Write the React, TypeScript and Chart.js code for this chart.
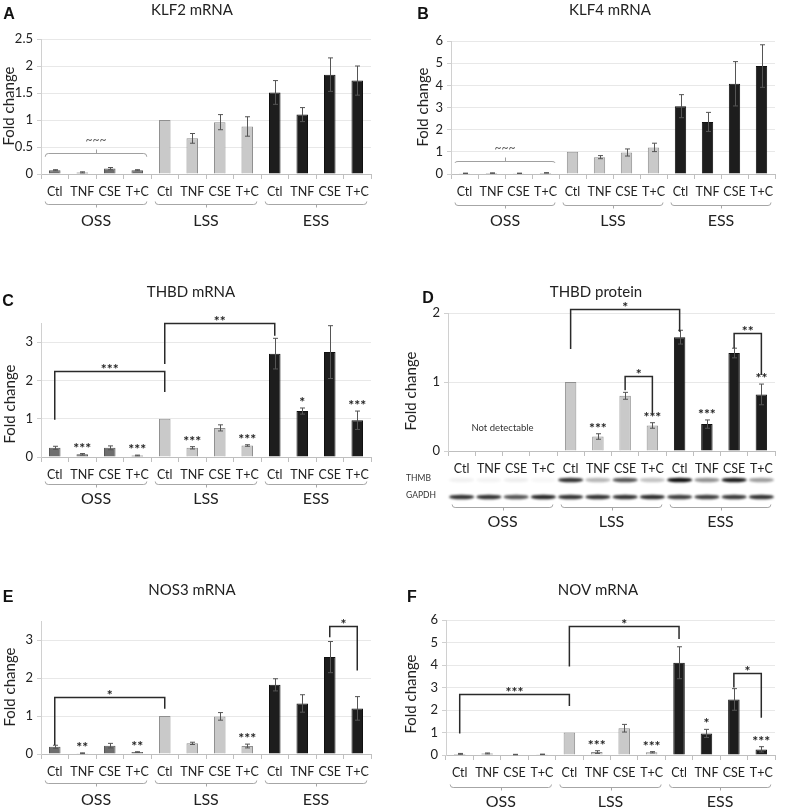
import React, { useEffect, useRef } from "react";
import { Chart, registerables } from "chart.js";

Chart.register(...registerables);
Chart.defaults.font.family = "Lato";

// ---------- shared categories ----------
const categories = ["Ctl", "TNF", "CSE", "T+C", "Ctl", "TNF", "CSE", "T+C", "Ctl", "TNF", "CSE", "T+C"];
const groups = ["OSS", "LSS", "ESS"];

// ---------- A: KLF2 mRNA ----------
const klf2Values = [0.07, 0.03, 0.1, 0.07, 1.0, 0.66, 0.96, 0.88, 1.51, 1.1, 1.84, 1.73];
const klf2Errors = [0.01, 0.01, 0.02, 0.01, 0, 0.09, 0.14, 0.18, 0.22, 0.13, 0.31, 0.27];
const klf2Stars = ["", "", "", "", "", "", "", "", "", "", "", ""];
const klf2Comparisons = [{ from: 0, to: 3, level: 0.38, fromEnd: 0.32, toEnd: 0.32, label: "~~~", kind: "brace" }];

// ---------- B: KLF4 mRNA ----------
const klf4Values = [0.03, 0.04, 0.03, 0.05, 1.0, 0.76, 0.97, 1.2, 3.06, 2.35, 4.07, 4.87];
const klf4Errors = [0.01, 0.01, 0.01, 0.01, 0, 0.07, 0.16, 0.19, 0.52, 0.43, 1.0, 0.96];
const klf4Stars = ["", "", "", "", "", "", "", "", "", "", "", ""];
const klf4Comparisons = [{ from: 0, to: 3, level: 0.6, fromEnd: 0.5, toEnd: 0.5, label: "~~~", kind: "brace" }];

// ---------- C: THBD mRNA ----------
const thbdValues = [0.24, 0.07, 0.24, 0.04, 1.0, 0.24, 0.76, 0.3, 2.7, 1.2, 2.74, 0.96];
const thbdErrors = [0.04, 0.02, 0.05, 0.01, 0, 0.03, 0.08, 0.02, 0.4, 0.08, 0.69, 0.24];
const thbdStars = ["", "***", "", "***", "", "***", "", "***", "", "*", "", "***"];
const thbdComparisons = [
  { from: 0, to: 4, level: 2.24, fromEnd: 0.97, toEnd: 1.7, label: "***", kind: "line" },
  { from: 4, to: 8, level: 3.5, fromEnd: 2.43, toEnd: 3.17, label: "**", kind: "line" },
];

// ---------- D: THBD protein ----------
const thbdProtValues = [null, null, null, null, 1.0, 0.21, 0.8, 0.37, 1.65, 0.39, 1.42, 0.82];
const thbdProtErrors = [0, 0, 0, 0, 0, 0.04, 0.05, 0.04, 0.1, 0.06, 0.07, 0.15];
const thbdProtStars = ["", "", "", "", "", "***", "", "***", "", "***", "", "**"];
const thbdProtComparisons = [
  { from: 4, to: 8, level: 2.06, fromEnd: 1.48, toEnd: 1.73, label: "*", kind: "line" },
  { from: 6, to: 7, level: 1.09, fromEnd: 0.88, toEnd: 0.52, label: "*", kind: "line" },
  { from: 10, to: 11, level: 1.71, fromEnd: 1.49, toEnd: 1.1, label: "**", kind: "line" },
];
const blotRowNames = ["THMB", "GAPDH"];
const thmbBands = [0.06, 0.05, 0.07, 0.04, 0.85, 0.3, 0.7, 0.25, 1.0, 0.45, 0.95, 0.4];
const gapdhBands = [0.85, 0.85, 0.7, 0.9, 0.85, 0.85, 0.85, 0.88, 0.8, 0.8, 0.82, 0.85];

// ---------- E: NOS3 mRNA ----------
const nos3Values = [0.19, 0.02, 0.22, 0.05, 1.0, 0.28, 0.99, 0.21, 1.82, 1.33, 2.55, 1.2];
const nos3Errors = [0.04, 0.01, 0.06, 0.01, 0, 0.03, 0.1, 0.05, 0.16, 0.23, 0.41, 0.31];
const nos3Stars = ["", "**", "", "**", "", "", "", "***", "", "", "", ""];
const nos3Comparisons = [
  { from: 0, to: 4, level: 1.5, fromEnd: 0.24, toEnd: 1.19, label: "*", kind: "line" },
  { from: 10, to: 11, level: 3.37, fromEnd: 3.07, toEnd: 2.2, label: "*", kind: "line" },
];

// ---------- F: NOV mRNA ----------
const novValues = [0.05, 0.07, 0.02, 0.03, 1.0, 0.13, 1.19, 0.12, 4.1, 0.96, 2.47, 0.25];
const novErrors = [0.02, 0.02, 0.01, 0.01, 0, 0.06, 0.17, 0.03, 0.71, 0.18, 0.48, 0.12];
const novStars = ["", "", "", "", "", "***", "", "***", "", "*", "", "***"];
const novComparisons = [
  { from: 0, to: 4, level: 2.71, fromEnd: 0.96, toEnd: 2.18, label: "***", kind: "line" },
  { from: 4, to: 8, level: 5.73, fromEnd: 3.93, toEnd: 5.16, label: "*", kind: "line" },
  { from: 10, to: 11, level: 3.66, fromEnd: 3.0, toEnd: 1.66, label: "*", kind: "line" },
];

// ---------- styles ----------
const groupFill = ["#6e6e6e", "#c9c9c9", "#1d1d1d"];
const groupBorder = ["#555555", "#8f8f8f", "#111111"];
const barFill = categories.map((_, i) => groupFill[Math.floor(i / 4)]);
const barBorder = categories.map((_, i) => groupBorder[Math.floor(i / 4)]);

type Panel = {
  id: string;
  letter: string;
  title: string;
  values: (number | null)[];
  errors: number[];
  stars: string[];
  comparisons: any[];
  max: number;
  step: number;
  box: number[];
  area: number[];
  letterPos: number[];
  titlePos: number[];
  yTitlePos: number[];
  bracketOff: number;
  groupOff: number;
  blot?: boolean;
  notDetectable?: boolean;
};

const panels: Panel[] = [
  {
    id: "A", letter: "A", title: "KLF2 mRNA", values: klf2Values, errors: klf2Errors, stars: klf2Stars,
    comparisons: klf2Comparisons, max: 2.5, step: 0.5,
    box: [0, 0, 393, 240], area: [41, 39, 371, 174], letterPos: [9, 15], titlePos: [192, 10], yTitlePos: [9, 106],
    bracketOff: 30, groupOff: 47,
  },
  {
    id: "B", letter: "B", title: "KLF4 mRNA", values: klf4Values, errors: klf4Errors, stars: klf4Stars,
    comparisons: klf4Comparisons, max: 6, step: 1,
    box: [393, 0, 394, 240], area: [451, 41, 775, 174], letterPos: [423, 15], titlePos: [610, 10], yTitlePos: [423, 107],
    bracketOff: 31, groupOff: 47,
  },
  {
    id: "C", letter: "C", title: "THBD mRNA", values: thbdValues, errors: thbdErrors, stars: thbdStars,
    comparisons: thbdComparisons, max: 3.5, step: 1,
    box: [0, 240, 393, 290], area: [41, 323, 371, 457], letterPos: [8, 302], titlePos: [191, 292], yTitlePos: [10, 404],
    bracketOff: 27, groupOff: 42,
  },
  {
    id: "D", letter: "D", title: "THBD protein", values: thbdProtValues, errors: thbdProtErrors, stars: thbdProtStars,
    comparisons: thbdProtComparisons, max: 2, step: 1,
    box: [393, 240, 394, 290], area: [448, 313, 775, 451], letterPos: [428, 299], titlePos: [596, 292], yTitlePos: [411, 391],
    bracketOff: 56, groupOff: 71, blot: true, notDetectable: true,
  },
  {
    id: "E", letter: "E", title: "NOS3 mRNA", values: nos3Values, errors: nos3Errors, stars: nos3Stars,
    comparisons: nos3Comparisons, max: 3.5, step: 1,
    box: [0, 530, 393, 280], area: [41, 621, 371, 754], letterPos: [8, 598], titlePos: [192, 590], yTitlePos: [10, 687],
    bracketOff: 29, groupOff: 46,
  },
  {
    id: "F", letter: "F", title: "NOV mRNA", values: novValues, errors: novErrors, stars: novStars,
    comparisons: novComparisons, max: 6, step: 1,
    box: [393, 530, 394, 280], area: [446, 620, 775, 755], letterPos: [412, 598], titlePos: [598, 590], yTitlePos: [411, 694],
    bracketOff: 32, groupOff: 47,
  },
];

function drawTextBottomAt(ctx: CanvasRenderingContext2D, text: string, x: number, bottom: number) {
  const m = ctx.measureText(text);
  ctx.textBaseline = "alphabetic";
  ctx.fillText(text, x, bottom - m.actualBoundingBoxDescent);
}

const starFont = "bold 14px Lato";

function makePlugin(cfg: Panel) {
  const [bx, by] = cfg.box;
  return {
    id: "decor" + cfg.id,
    afterDatasetsDraw(chart: any) {
      const ctx: CanvasRenderingContext2D = chart.ctx;
      const xs = chart.scales.x;
      const ys = chart.scales.y;
      ctx.save();
      // error bars
      ctx.strokeStyle = "#555";
      ctx.lineWidth = 1;
      cfg.values.forEach((v, i) => {
        const e = cfg.errors[i];
        if (v == null || !e) return;
        const x = Math.round(xs.getPixelForValue(i)) + 0.5;
        const yt = ys.getPixelForValue(v + e);
        const yb = ys.getPixelForValue(Math.max(v - e, 0));
        ctx.beginPath();
        ctx.moveTo(x, yt);
        ctx.lineTo(x, yb);
        ctx.moveTo(x - 2.5, yt);
        ctx.lineTo(x + 2.5, yt);
        ctx.moveTo(x - 2.5, yb);
        ctx.lineTo(x + 2.5, yb);
        ctx.stroke();
      });
      // stars over bars
      ctx.fillStyle = "#222";
      ctx.font = starFont;
      ctx.textAlign = "center";
      cfg.stars.forEach((s, i) => {
        const v = cfg.values[i];
        if (!s || v == null) return;
        const top = ys.getPixelForValue(v + (cfg.errors[i] || 0));
        drawTextBottomAt(ctx, s, xs.getPixelForValue(i), top - 6);
      });
      // comparison brackets
      cfg.comparisons.forEach((c) => {
        const x1 = xs.getPixelForValue(c.from);
        const x2 = xs.getPixelForValue(c.to);
        const y = Math.round(ys.getPixelForValue(c.level)) + 0.5;
        if (c.kind === "brace") {
          const l = x1 - 9.5;
          const r = x2 + 9.5;
          const ye = ys.getPixelForValue(c.fromEnd);
          ctx.strokeStyle = "#a0a0a0";
          ctx.lineWidth = 1;
          ctx.beginPath();
          ctx.moveTo(l, ye);
          ctx.quadraticCurveTo(l, y, l + 3, y);
          ctx.lineTo(r - 3, y);
          ctx.quadraticCurveTo(r, y, r, ye);
          const mx = Math.round((l + r) / 2) + 0.5;
          ctx.moveTo(mx, y);
          ctx.lineTo(mx, y - 4);
          ctx.stroke();
          ctx.fillStyle = "#555";
          ctx.font = "12px Lato";
          ctx.textBaseline = "middle";
          ctx.fillText(c.label, (l + r) / 2, y - 13);
        } else {
          ctx.strokeStyle = "#2a2a2a";
          ctx.lineWidth = 1.5;
          ctx.beginPath();
          ctx.moveTo(x1, ys.getPixelForValue(c.fromEnd));
          ctx.lineTo(x1, y);
          ctx.lineTo(x2, y);
          ctx.lineTo(x2, ys.getPixelForValue(c.toEnd));
          ctx.stroke();
          ctx.fillStyle = "#222";
          ctx.font = starFont;
          drawTextBottomAt(ctx, c.label, (x1 + x2) / 2, y - 3);
        }
      });
      ctx.restore();
    },
    afterDraw(chart: any) {
      const ctx: CanvasRenderingContext2D = chart.ctx;
      const xs = chart.scales.x;
      const ys = chart.scales.y;
      const bottom = chart.chartArea.bottom;
      ctx.save();
      // panel letter
      ctx.fillStyle = "#111";
      ctx.font = "bold 16px 'Liberation Sans'";
      ctx.textAlign = "center";
      ctx.textBaseline = "middle";
      ctx.fillText(cfg.letter, cfg.letterPos[0] - bx, cfg.letterPos[1] - by);
      // title
      ctx.fillStyle = "#222";
      ctx.font = "15px Lato";
      ctx.fillText(cfg.title, cfg.titlePos[0] - bx, cfg.titlePos[1] - by);
      // y title
      ctx.save();
      ctx.translate(cfg.yTitlePos[0] - bx, cfg.yTitlePos[1] - by);
      ctx.rotate(-Math.PI / 2);
      ctx.font = "15px Lato";
      ctx.fillText("Fold change", 0, 0);
      ctx.restore();
      // not detectable
      if (cfg.notDetectable) {
        ctx.font = "9.5px Lato";
        ctx.fillStyle = "#333";
        const x = (xs.getPixelForValue(1) + xs.getPixelForValue(2)) / 2;
        ctx.fillText("Not detectable", x, ys.getPixelForValue(0.33));
      }
      // blot
      if (cfg.blot) {
        const rows = [thmbBands, gapdhBands];
        const offs = [29, 46];
        ctx.font = "8.5px Lato";
        ctx.fillStyle = "#333";
        ctx.textAlign = "left";
        blotRowNames.forEach((name, k) => ctx.fillText(name, 406 - bx, bottom + offs[k] - 2));
        ctx.filter = "blur(1.2px)";
        rows.forEach((row, k) => {
          row.forEach((a, i) => {
            const x = xs.getPixelForValue(i);
            ctx.fillStyle = `rgba(15,15,15,${a})`;
            ctx.beginPath();
            ctx.ellipse(x, bottom + offs[k], 12.5, 2.3, 0, 0, Math.PI * 2);
            ctx.fill();
          });
        });
        ctx.filter = "none";
        ctx.textAlign = "center";
      }
      // group brackets and labels
      groups.forEach((g, gi) => {
        const l = xs.getPixelForValue(gi * 4) - 9.5;
        const r = xs.getPixelForValue(gi * 4 + 3) + 9.5;
        const y = Math.round(bottom + cfg.bracketOff) + 0.5;
        ctx.strokeStyle = "#a6a6a6";
        ctx.lineWidth = 1;
        ctx.beginPath();
        ctx.moveTo(l, y - 3);
        ctx.quadraticCurveTo(l, y, l + 3, y);
        ctx.lineTo(r - 3, y);
        ctx.quadraticCurveTo(r, y, r, y - 3);
        const mx = Math.round((l + r) / 2) + 0.5;
        ctx.moveTo(mx, y);
        ctx.lineTo(mx, y + 3);
        ctx.stroke();
        ctx.fillStyle = "#222";
        ctx.font = "16px Lato";
        ctx.textBaseline = "middle";
        ctx.fillText(g, (l + r) / 2, bottom + cfg.groupOff);
      });
      ctx.restore();
    },
  };
}

function PanelChart({ cfg }: { cfg: Panel }) {
  const ref = useRef<HTMLCanvasElement>(null);
  useEffect(() => {
    const [bx, by, bw, bh] = cfg.box;
    const [l, t, r, b] = cfg.area;
    const yW = 30;
    const chart = new Chart(ref.current as HTMLCanvasElement, {
      type: "bar",
      data: {
        labels: categories,
        datasets: [
          {
            data: cfg.values as any,
            backgroundColor: barFill,
            borderColor: barBorder,
            borderWidth: 1,
            barPercentage: 0.42,
            categoryPercentage: 1,
          },
        ],
      },
      options: {
        animation: false,
        responsive: false,
        devicePixelRatio: 1,
        layout: { padding: { left: l - bx - yW, top: t - by, right: bx + bw - r, bottom: 0 } },
        plugins: { legend: { display: false }, tooltip: { enabled: false }, title: { display: false } },
        scales: {
          x: {
            grid: { offset: true, drawOnChartArea: false, tickLength: 5, color: "#bfbfbf" },
            border: { color: "#bfbfbf" },
            ticks: { padding: 5, color: "#222", font: { size: 12.5 }, maxRotation: 0, autoSkip: false },
            afterFit: (s: any) => {
              s.height = by + bh - b;
            },
          },
          y: {
            min: 0,
            max: cfg.max,
            ticks: {
              stepSize: cfg.step,
              includeBounds: false,
              padding: 4,
              color: "#222",
              font: { size: 13 },
              callback: (v: any) => String(Math.round(Number(v) * 100) / 100),
            },
            grid: { color: "#e8e8e8", tickLength: 4, tickColor: "#d0d0d0" },
            border: { color: "#d0d0d0" },
            afterFit: (s: any) => {
              s.width = yW;
            },
          },
        },
      } as any,
      plugins: [makePlugin(cfg) as any],
    });
    return () => chart.destroy();
  }, [cfg]);
  const [bx, by, bw, bh] = cfg.box;
  return (
    <canvas
      ref={ref}
      width={bw}
      height={bh}
      style={{ position: "absolute", left: bx, top: by, width: bw, height: bh }}
    />
  );
}

export default function App() {
  return (
    <div style={{ position: "absolute", left: 0, top: 0, width: 787, height: 810, background: "#fff" }}>
      {panels.map((p) => (
        <PanelChart key={p.id} cfg={p} />
      ))}
    </div>
  );
}
